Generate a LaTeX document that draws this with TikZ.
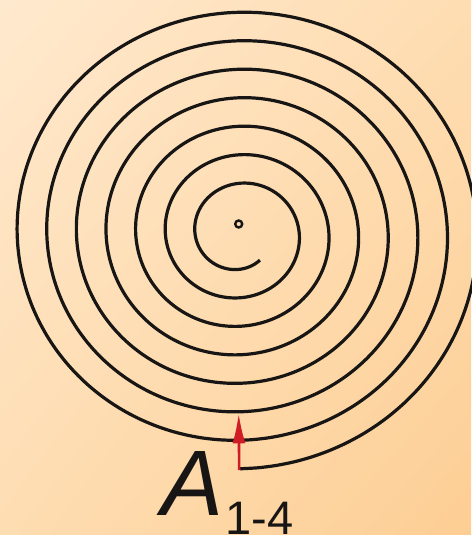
\documentclass[tikz,border=0pt]{standalone}
\usepackage{fontspec}
\setmainfont{Liberation Sans}
\usepackage{xcolor}
\usepackage{tikz}
\usetikzlibrary{positioning, arrows.meta, calc, shadings}

\definecolor{bgLight}{RGB}{255,233,206}
\definecolor{bgMid}{RGB}{254,221,178}
\definecolor{bgDark}{RGB}{253,206,148}
\definecolor{arrowRed}{RGB}{208,28,36}
\definecolor{ink}{RGB}{24,22,20}

\begin{document}
\begin{tikzpicture}[x=1pt, y=1pt,
    coil/.style={line width=3.2pt, ink, line join=round},
    marker/.style={arrowRed, line width=2.6pt, -{Latex[length=30pt, width=13pt]}},
    label/.style={anchor=base west, inner sep=0pt, ink}]
    % Background
    \shade[upper left=bgLight, upper right=bgMid, lower left=bgMid, lower right=bgDark]
        (0,0) rectangle (471,535);
    \useasboundingbox (0,0) rectangle (471,535);

    % Spiral (r = 35.9 + 28.5 t/360, slightly wider than tall)
    \draw[coil] plot[domain=-36:2520, samples=600, smooth, variable=\t]
        ({239.7 - 1.04*(35.9+0.079167*\t)*sin(\t)}, {301.6 - (35.9+0.079167*\t)*cos(\t)});

    % Center dot
    \node[circle, draw, line width=2.4pt, minimum size=7pt, inner sep=0pt, ink] (core) at (238.7,311) {};

    % Arrow from the outer end
    \coordinate (tail) at (239.2,65);
    \coordinate (tip) at (238.7,121.7);
    \draw[marker] (tail) -- (tip);

    % Label
    \node[label] (name) at (161,19)
        {\fontsize{93}{93}\selectfont\itshape A\kern2.5pt\raisebox{-19pt}{\fontsize{47}{47}\selectfont\upshape 1-4}};
\end{tikzpicture}
\end{document}
